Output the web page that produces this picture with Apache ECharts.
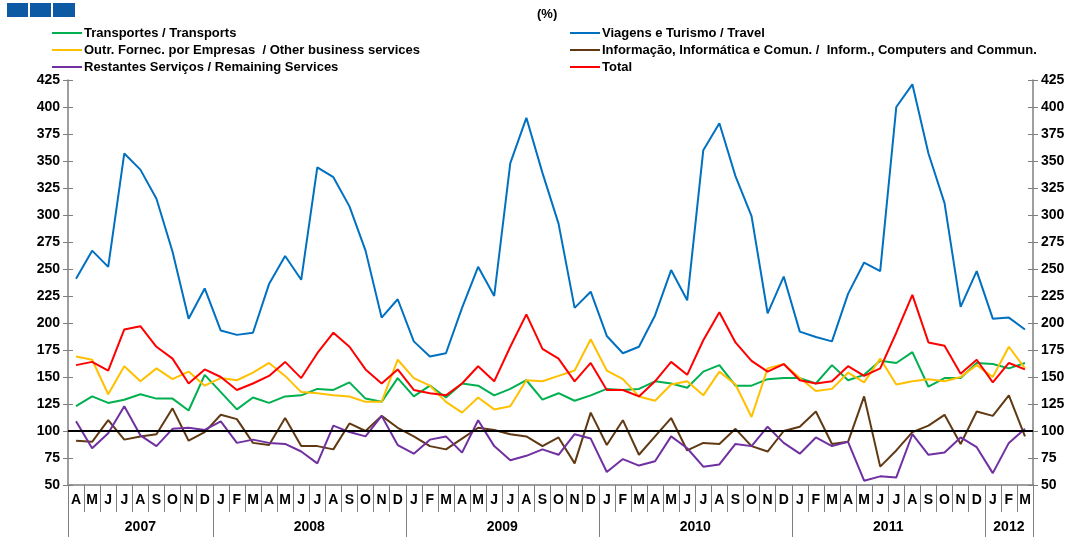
<!DOCTYPE html>
<html>
<head>
<meta charset="utf-8">
<script src="https://cdn.jsdelivr.net/npm/echarts@6/dist/echarts.min.js"></script>
<style>
  html, body { margin: 0; padding: 0; background: #fff; }
  #chart { width: 1074px; height: 537px; }
</style>
</head>
<body>
<div id="chart"></div>
<script>
// categories
const years = ['2007', '2008', '2009', '2010', '2011', '2012']
const monthsPerYear = [9, 12, 12, 12, 12, 3]
const months = [
  'A', 'M', 'J', 'J', 'A', 'S', 'O', 'N', 'D',
  'J', 'F', 'M', 'A', 'M', 'J', 'J', 'A', 'S', 'O', 'N', 'D',
  'J', 'F', 'M', 'A', 'M', 'J', 'J', 'A', 'S', 'O', 'N', 'D',
  'J', 'F', 'M', 'A', 'M', 'J', 'J', 'A', 'S', 'O', 'N', 'D',
  'J', 'F', 'M', 'A', 'M', 'J', 'J', 'A', 'S', 'O', 'N', 'D',
  'J', 'F', 'M'
]
const yTicks = { min: 50, max: 425, step: 25 }

// series values (%)
const transports = [
  123, 132, 126, 129, 134, 130, 130, 119, 152,
  136, 120, 131, 126, 132, 133, 139, 138, 145, 130, 127, 149,
  132, 142, 131, 144, 142, 133, 139, 147, 129, 135, 128, 133,
  139, 138, 139, 146, 144, 140, 155, 161, 142, 142, 148, 149,
  149, 144, 161, 147, 152, 165, 163, 173, 141, 149, 149, 163,
  162, 158, 163
]
const travel = [
  241, 267, 252, 357, 342, 315, 266, 204, 232,
  193, 189, 191, 236, 262, 240, 344, 335, 308, 267, 205, 222,
  183, 169, 172, 214, 252, 225, 348, 390, 339, 292, 214, 229,
  188, 172, 178, 207, 249, 221, 360, 385, 336, 299, 209, 243,
  192, 187, 183, 227, 256, 248, 400, 421, 357, 311, 215, 248,
  204, 205, 194
]
const otherBusiness = [
  169, 166, 134, 160, 146, 158, 148, 155, 142,
  149, 147, 154, 163, 151, 136, 135, 133, 132, 127, 127, 166,
  149, 142, 127, 117, 131, 120, 123, 147, 146, 151, 156, 185,
  156, 148, 132, 128, 143, 146, 133, 155, 143, 113, 158, 162,
  149, 137, 139, 154, 145, 167, 143, 146, 148, 146, 150, 161,
  150, 178, 158
]
const inform = [
  91, 90, 110, 92, 95, 97, 121, 91, 99,
  115, 111, 89, 87, 112, 86, 86, 83, 107, 100, 114, 103,
  95, 86, 83, 93, 103, 101, 97, 95, 86, 94, 70, 117,
  87, 110, 78, 95, 112, 82, 89, 88, 102, 86, 81, 100,
  104, 118, 88, 90, 132, 67, 82, 99, 105, 115, 88, 118,
  114, 133, 95
]
const remaining = [
  109, 84, 98, 123, 96, 86, 102, 103, 101,
  109, 89, 92, 89, 88, 81, 70, 105, 99, 95, 114, 87,
  79, 92, 95, 80, 110, 86, 73, 77, 83, 78, 97, 93,
  62, 74, 68, 72, 95, 84, 67, 69, 88, 86, 104, 89,
  79, 94, 86, 90, 54, 58, 57, 97, 78, 80, 94, 85,
  61, 89, 102
]
const total = [
  161, 164, 156, 194, 197, 178, 167, 144, 157,
  150, 138, 144, 151, 164, 149, 172, 191, 178, 157, 144, 157,
  138, 135, 133, 144, 160, 146, 178, 208, 176, 167, 146, 163,
  138, 138, 132, 146, 164, 152, 184, 210, 182, 165, 155, 162,
  147, 144, 146, 160, 151, 158, 191, 226, 182, 179, 153, 166,
  145, 163, 157
]
const baseLine = 100

const names = {
  transports: 'Transportes / Transports',
  travel: 'Viagens e Turismo / Travel',
  other: 'Outr. Fornec. por Empresas  / Other business services',
  inform: 'Informação, Informática e Comun. /  Inform., Computers and Commun.',
  remaining: 'Restantes Serviços / Remaining Services',
  total: 'Total'
}

// year boundaries / midpoints on a 0..60 scale
let yearEdges = [0]
monthsPerYear.forEach(n => { yearEdges.push(yearEdges[yearEdges.length - 1] + n) })
const yearMids = years.map((y, i) => (yearEdges[i] + yearEdges[i + 1]) / 2)

const font = 'Liberation Sans, Arial, sans-serif'
const axisGrey = '#7f7f7f'

function lineSeries (name, data, color, z) {
  return {
    name: name,
    type: 'line',
    data: data,
    symbol: 'none',
    z: z,
    lineStyle: { color: color, width: 2 },
    itemStyle: { color: color }
  }
}

const chart = echarts.init(document.getElementById('chart'), null, { renderer: 'canvas' })

const yAxisBase = {
  type: 'value',
  min: yTicks.min,
  max: yTicks.max,
  interval: yTicks.step,
  splitLine: { show: false },
  axisLine: { show: true, lineStyle: { color: axisGrey, width: 1.5 } },
  axisTick: { show: true, length: 5, lineStyle: { color: axisGrey } },
  axisLabel: { color: '#000', fontWeight: 'bold', fontSize: 14, fontFamily: font, margin: 8 }
}
// inner half of the crossing ticks
const yAxisInner = {
  type: 'value',
  min: yTicks.min,
  max: yTicks.max,
  interval: yTicks.step,
  splitLine: { show: false },
  axisLine: { show: false },
  axisLabel: { show: false },
  axisTick: { show: true, inside: true, length: 5, lineStyle: { color: axisGrey } }
}

const legendBase = {
  top: 21,
  orient: 'vertical',
  icon: 'rect',
  itemWidth: 30,
  itemHeight: 2,
  itemGap: 3,
  textStyle: { fontSize: 13, lineHeight: 14, fontWeight: 'bold', fontFamily: font, color: '#000', padding: [0, 0, 0, -3] }
}

let option = {
  animation: false,
  title: {
    text: '(%)',
    left: 532,
    top: 3,
    textStyle: { fontSize: 13, fontWeight: 'bold', fontFamily: font, color: '#000' }
  },
  graphic: [
    { type: 'rect', shape: { x: 7, y: 3, width: 21, height: 14 }, style: { fill: '#0b5aa3' } },
    { type: 'rect', shape: { x: 30, y: 3, width: 21, height: 14 }, style: { fill: '#0b5aa3' } },
    { type: 'rect', shape: { x: 53, y: 3, width: 22, height: 14 }, style: { fill: '#0b5aa3' } }
  ],
  legend: [
    Object.assign({}, legendBase, { left: 47, data: [names.transports, names.other, names.remaining] }),
    Object.assign({}, legendBase, { left: 565, data: [names.travel, names.inform, names.total] })
  ],
  grid: { left: 68, right: 41, top: 80, bottom: 52 },
  xAxis: [
    {
      type: 'category',
      data: months,
      boundaryGap: true,
      axisLine: { show: true, lineStyle: { color: axisGrey, width: 1.5 } },
      axisTick: { show: true, interval: 0, length: 27, lineStyle: { color: axisGrey } },
      axisLabel: { interval: 0, color: '#000', fontWeight: 'bold', fontSize: 14, fontFamily: font, margin: 8 }
    },
    {
      type: 'value',
      min: 0,
      max: months.length,
      position: 'bottom',
      offset: 27,
      splitLine: { show: false },
      axisLine: { show: false },
      axisTick: {
        show: true,
        customValues: yearEdges,
        length: 25,
        lineStyle: { color: axisGrey }
      },
      axisLabel: {
        customValues: yearMids,
        color: '#000',
        fontWeight: 'bold',
        fontSize: 14,
        fontFamily: font,
        margin: 8,
        formatter: function (v) {
          let i = yearMids.indexOf(v)
          return i >= 0 ? years[i] : ''
        }
      }
    }
  ],
  yAxis: [
    Object.assign({}, yAxisBase, { position: 'left' }),
    Object.assign({}, yAxisBase, { position: 'right' }),
    Object.assign({}, yAxisInner, { position: 'left' }),
    Object.assign({}, yAxisInner, { position: 'right' })
  ],
  series: [
    lineSeries(names.travel, travel, '#0070c0', 2),
    lineSeries(names.transports, transports, '#00b050', 3),
    lineSeries(names.other, otherBusiness, '#ffc000', 3),
    lineSeries(names.inform, inform, '#603913', 3),
    lineSeries(names.remaining, remaining, '#7030a0', 3),
    Object.assign(lineSeries(names.total, total, '#ff0000', 4), {
      markLine: {
        silent: true,
        symbol: ['none', 'none'],
        label: { show: false },
        lineStyle: { color: '#000', width: 2, type: 'solid' },
        data: [{ yAxis: baseLine }]
      }
    })
  ]
}

chart.setOption(option)
</script>
</body>
</html>
